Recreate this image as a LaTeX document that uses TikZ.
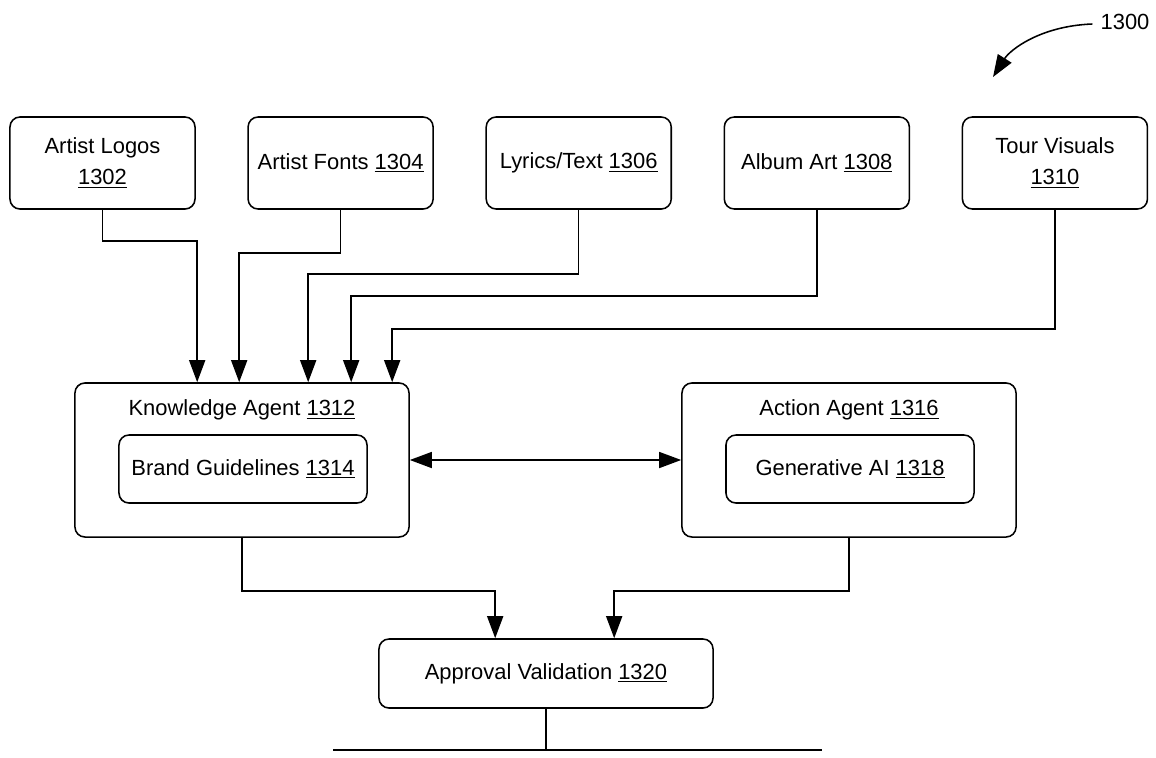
\documentclass[tikz,border=0pt]{standalone}
\usepackage{fontspec}
\setmainfont{Liberation Sans}
\usepackage{tikz}
\usetikzlibrary{positioning,calc,arrows.meta}

\begin{document}
\begin{tikzpicture}[x=0.025cm,y=-0.025cm,
% 设定样式
srcnode/.style={rectangle, draw=black, rounded corners=2.5mm, line width=1.1pt, minimum width=4.625cm, minimum height=2.3cm, align=center, font=\fontsize{15.6}{22}\selectfont},
agentnode/.style={rectangle, draw=black, rounded corners=2.5mm, line width=1.1pt, minimum width=8.35cm, minimum height=3.85cm},
innernode/.style={rectangle, draw=black, rounded corners=2.5mm, line width=1.1pt, minimum width=6.2cm, minimum height=1.7cm, font=\fontsize{15.6}{22}\selectfont},
titlenode/.style={font=\fontsize{15.6}{22}\selectfont, inner sep=0pt},
arr/.style={line width=1.1pt, -{Triangle[length=5.5mm, width=4mm]}},
]
\useasboundingbox (0,0) rectangle (1156,757);

%定义节点:Nodes
\node[srcnode] (logos) at (102.5,163) {Artist Logos\\\underline{1302}};
\node[srcnode] (fonts) [right=1.2875cm of logos] {Artist Fonts \underline{1304}};
\node[srcnode] (lyrics) [right=1.2875cm of fonts] {Lyrics/Text \underline{1306}};
\node[srcnode] (album) [right=1.2875cm of lyrics] {Album Art \underline{1308}};
\node[srcnode] (tour) [right=1.2875cm of album] {Tour Visuals\\\underline{1310}};

\node[agentnode] (ka) at (242,460) {};
\node[titlenode] (kat) at ($(ka.north)+(0,28)$) {Knowledge Agent \underline{1312}};
\node[innernode] (bg) at (243,469) {Brand Guidelines \underline{1314}};

\node[agentnode] (aa) at (849,460) {};
\node[titlenode] (aat) at ($(aa.north)+(0,28)$) {Action Agent \underline{1316}};
\node[innernode] (gen) at (850,469) {Generative AI \underline{1318}};

\node[srcnode, minimum width=8.35cm, minimum height=1.725cm] (appr) at (546,673.5) {Approval Validation \underline{1320}};

\node[titlenode] (fig) at (1125,22) {1300};
\coordinate (tip) at (993,77);
\coordinate (busl) at (333,750);
\coordinate (busr) at (822,750);

%Lines
\draw[arr] (logos.south) -- ++(0,31) -| ($(ka.north west)+(123,0)$);
\draw[arr] (fonts.south) -- ++(0,43) -| ($(ka.north west)+(165,0)$);
\draw[arr] (lyrics.south) -- ++(0,64) -| ($(ka.north west)+(234,0)$);
\draw[arr] (album.south) -- ++(0,86) -| ($(ka.north west)+(277,0)$);
\draw[arr] (tour.south) -- ++(0,119) -| ($(ka.north west)+(318,0)$);
\draw[line width=1.1pt, {Triangle[length=5.5mm, width=4mm]}-{Triangle[length=5.5mm, width=4mm]}] (ka.east) -- (aa.west);
\draw[arr] (ka.south) -- ++(0,53) -| ($(appr.north west)+(117,0)$);
\draw[arr] (aa.south) -- ++(0,53) -| ($(appr.north west)+(236,0)$);
\draw[line width=1.1pt] (appr.south) -- (appr.south |- busl);
\draw[line width=1.1pt] (busl) -- (busr);
\draw[arr] ($(fig.west)+(-8,2)$) .. controls (1040,26) and (1010,50) .. (tip);

\end{tikzpicture}
\end{document}
